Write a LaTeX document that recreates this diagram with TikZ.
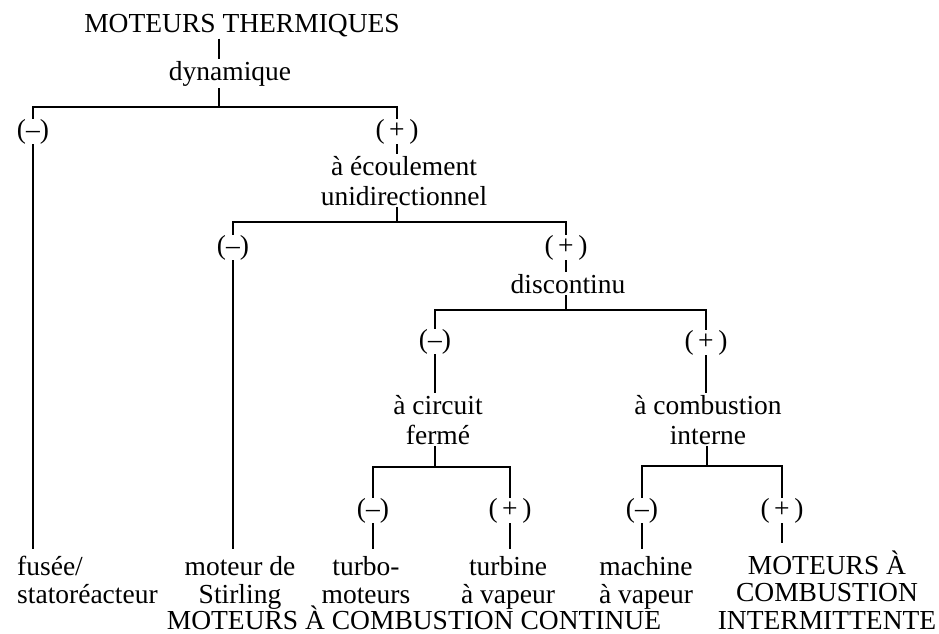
\documentclass[tikz,border=0pt]{standalone}
\usepackage{fontspec}
\setmainfont{Liberation Serif}
\begin{document}
\begin{tikzpicture}[x=1pt,y=1pt]
\tikzset{
  lbl/.style={font=\fontsize{27.5}{29.5}\selectfont, inner sep=2pt, align=center, anchor=base},
  sgn/.style={font=\fontsize{27.5}{29.5}\selectfont, inner sep=0pt, anchor=base},
  leaf/.style={font=\fontsize{27.5}{27.5}\selectfont, inner xsep=2pt, inner ysep=7pt, align=center, anchor=base},
  conn/.style={line width=2.4pt},
}
\useasboundingbox (0,0) rectangle (939,-633);
% upper levels (multi-line nodes are placed by their last baseline)
\node[lbl] (title) at (242,-32) {MOTEURS THERMIQUES};
\node[lbl] (dyn) at (230,-80) {dynamique};
\coordinate (s0) at (219,-107);
\node[sgn] (m1) at (33,-138) {(–)};
\node[sgn] (p1) at (397,-138) {(\,+\,)};
\node[lbl] (ecoul) at (404,-205) {à écoulement\\unidirectionnel};
\coordinate (s1) at (397,-222);
\node[sgn] (m2) at (233,-254) {(–)};
\node[sgn] (p2) at (566,-254) {(\,+\,)};
\node[lbl] (disc) at (568,-293) {discontinu};
\coordinate (s2) at (566,-310);
\node[sgn] (m3) at (435,-348) {(–)};
\node[sgn] (p3) at (706,-349) {(\,+\,)};
\node[lbl] (circ) at (438,-444) {à circuit\\fermé};
\node[lbl] (comb) at (708,-444) {à combustion\\interne};
\coordinate (s3) at (435,-467);
\coordinate (s4) at (707,-466);
\node[sgn] (m4) at (373,-517) {(–)};
\node[sgn] (p4) at (510,-517) {(\,+\,)};
\node[sgn] (m5) at (642,-517) {(–)};
\node[sgn] (p5) at (782,-517) {(\,+\,)};
% leaves
\node[leaf, align=left, anchor=base west] (l1) at (15,-603) {fusée/\\statoréacteur};
\node[leaf] (l2) at (240,-603) {moteur de\\Stirling};
\node[leaf] (l3) at (366,-603) {turbo-\\moteurs};
\node[leaf] (l4) at (508,-603) {turbine\\à vapeur};
\node[leaf] (l5) at (646,-603) {machine\\à vapeur};
\node[leaf] (l6) at (827,-629) {MOTEURS À\\COMBUSTION\\INTERMITTENTE};
\node[lbl, inner sep=0pt] (cont) at (414,-629) {MOTEURS À COMBUSTION CONTINUE};
% connectors
\draw[conn] (title.south -| s0) -- (dyn.north -| s0);
\draw[conn] (dyn.south -| s0) -- (s0);
\draw[conn] (m1.north) -- (m1.north |- s0) -- (p1.north |- s0) -- (p1.north);
\draw[conn] (m1.south) -- (m1.south |- l1.north);
\draw[conn] (p1.south) -- (ecoul.north -| p1);
\draw[conn] (ecoul.south -| s1) -- (s1);
\draw[conn] (m2.north) -- (m2.north |- s1) -- (p2.north |- s1) -- (p2.north);
\draw[conn] (m2.south) -- (m2.south |- l2.north);
\draw[conn] (p2.south) -- (disc.north -| p2);
\draw[conn] (disc.south -| s2) -- (s2);
\draw[conn] (m3.north) -- (m3.north |- s2) -- (p3.north |- s2) -- (p3.north);
\draw[conn] (m3.south) -- (circ.north -| m3);
\draw[conn] (p3.south) -- (comb.north -| p3);
\draw[conn] (circ.south -| s3) -- (s3);
\draw[conn] (comb.south -| s4) -- (s4);
\draw[conn] (m4.north) -- (m4.north |- s3) -- (p4.north |- s3) -- (p4.north);
\draw[conn] (m5.north) -- (m5.north |- s4) -- (p5.north |- s4) -- (p5.north);
\draw[conn] (m4.south) -- (m4.south |- l3.north);
\draw[conn] (p4.south) -- (p4.south |- l4.north);
\draw[conn] (m5.south) -- (m5.south |- l5.north);
\draw[conn] (p5.south) -- (p5.south |- l6.north);
\end{tikzpicture}
\end{document}
